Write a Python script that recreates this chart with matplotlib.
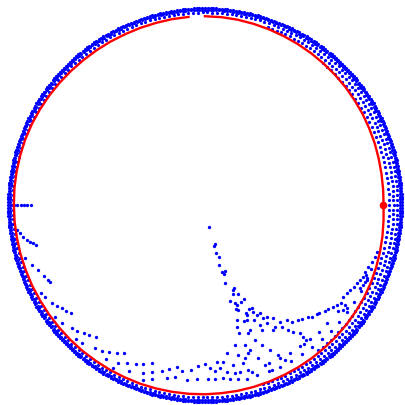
"""Orbit plot in the unit disk: blue orbit points, red boundary curve."""
import matplotlib
matplotlib.use("Agg")
import matplotlib.pyplot as plt
import numpy as np

# ring bands of orbit points near the boundary (radius, start deg, end deg, count)
ring_radius = [0.994, 0.986, 0.972, 0.952, 0.93]
ring_start = [0, 0, 0, -72, -52]
ring_end = [360, 360, 360, 72, 52]
ring_count = [440, 440, 250, 100, 62]

# scattered orbit points inside the disk
inner_x = [0.020, 0.049, 0.048, 0.057, 0.072, 0.069, 0.086, 0.101, 0.094, 0.103,
           0.148, 0.143, 0.141, 0.167, 0.195, 0.128, 0.152, 0.163, 0.180, 0.222,
           0.239, 0.155, 0.207, 0.244, 0.261, 0.278, 0.160, 0.197, 0.214, 0.247,
           0.295, 0.311, 0.345, 0.379, 0.412, 0.438, 0.471, 0.488, 0.522, 0.539,
           0.564, 0.577, 0.606, 0.623, 0.645, 0.665, 0.685, 0.707, 0.716, 0.699,
           0.673, 0.699, 0.716, 0.732, 0.753, 0.766, 0.783, 0.800, 0.813, 0.820,
           0.808, 0.796, 0.783, 0.867, 0.859, 0.842, 0.825, 0.808,
           0.168, 0.214, 0.160, 0.173, 0.219, 0.152, 0.202, 0.110, 0.168, 0.219,
           0.059, 0.093, 0.143, 0.193, -0.409, -0.395, -0.348, -0.312, -0.269, -0.382,
           -0.312, -0.266, -0.219, -0.180, -0.143, -0.118, -0.071, -0.034, 0.000, 0.025,
           0.051, 0.076, 0.110, 0.152, 0.177, 0.219, -0.312, -0.269, -0.193, -0.152,
           -0.093, -0.042, 0.017, 0.051, 0.089, 0.126, 0.168, 0.211,
           -0.783, -0.830, -0.808, -0.774, -0.749, -0.724, -0.702, -0.678, -0.758, -0.724,
           -0.673, -0.645, -0.611, -0.584, -0.551, -0.652, -0.623, -0.556, -0.522, -0.483,
           -0.446, -0.500, -0.438, -0.463,
           -0.965, -0.948, -0.931, -0.914, -0.897, -0.880,
           -0.951, -0.934, -0.918, -0.901, -0.884, -0.867, -0.854,
           -0.909, -0.874, -0.843, -0.813, -0.793,
           # lower-right tracks inside the red curve
           0.263, 0.323, 0.380, 0.436, 0.490, 0.542, 0.590, 0.636, 0.679, 0.719,
           0.755, 0.787, 0.816, 0.840,
           0.322, 0.377, 0.430, 0.481, 0.530, 0.575, 0.618,
           0.278, 0.313, 0.354, 0.387, 0.421, 0.446, 0.480, 0.496, 0.510, 0.500,
           0.253, 0.288, 0.328, 0.369, 0.404, 0.268, 0.303, 0.338, 0.237, 0.227,
           0.202, 0.227, 0.286, 0.345]
inner_y = [-0.110, -0.198, -0.206, -0.244, -0.264, -0.303, -0.337, -0.332, -0.348, -0.395,
           -0.421, -0.429, -0.448, -0.449, -0.476, -0.485, -0.496, -0.504, -0.491, -0.527,
           -0.519, -0.527, -0.544, -0.539, -0.556, -0.544, -0.581, -0.584, -0.581, -0.581,
           -0.572, -0.564, -0.572, -0.589, -0.581, -0.589, -0.581, -0.576, -0.567, -0.564,
           -0.551, -0.547, -0.534, -0.527, -0.514, -0.505, -0.493, -0.505, -0.522, -0.530,
           -0.535, -0.463, -0.446, -0.429, -0.413, -0.396, -0.379, -0.362, -0.354, -0.370,
           -0.387, -0.404, -0.421, -0.236, -0.261, -0.286, -0.312, -0.337,
           -0.530, -0.556, -0.615, -0.648, -0.648, -0.707, -0.707, -0.749, -0.758, -0.749,
           -0.791, -0.791, -0.808, -0.800, -0.749, -0.800, -0.805, -0.805, -0.800, -0.838,
           -0.847, -0.842, -0.838, -0.830, -0.817, -0.838, -0.833, -0.813, -0.803, -0.822,
           -0.837, -0.825, -0.842, -0.850, -0.842, -0.833, -0.884, -0.879, -0.875, -0.867,
           -0.884, -0.879, -0.880, -0.877, -0.872, -0.880, -0.880, -0.877,
           -0.387, -0.446, -0.466, -0.493, -0.510, -0.522, -0.535, -0.547, -0.567, -0.594,
           -0.620, -0.635, -0.648, -0.657, -0.668, -0.678, -0.695, -0.721, -0.736, -0.741,
           -0.749, -0.779, -0.796, -0.825,
           0.0, 0.0, 0.0, 0.0, 0.0, 0.0,
           -0.126, -0.143, -0.160, -0.177, -0.185, -0.194, -0.202,
           -0.268, -0.303, -0.328, -0.359, -0.379,
           -0.861, -0.840, -0.816, -0.787, -0.755, -0.719, -0.679, -0.636, -0.590, -0.542,
           -0.490, -0.436, -0.380, -0.323,
           -0.797, -0.773, -0.745, -0.713, -0.678, -0.639, -0.598,
           -0.604, -0.597, -0.614, -0.614, -0.631, -0.639, -0.648, -0.665, -0.682, -0.702,
           -0.682, -0.707, -0.732, -0.758, -0.783, -0.773, -0.808, -0.833, -0.843, -0.732,
           -0.773, -0.631, -0.631, -0.631]

# red boundary curve: radius every 5 degrees from 95 to 450 (gap at the top)
curve_deg = np.arange(95, 451, 5)
curve_r = [0.953, 0.953, 0.952, 0.952, 0.952, 0.953, 0.954, 0.955, 0.957, 0.959,
           0.961, 0.963, 0.965, 0.966, 0.966, 0.966, 0.966, 0.965, 0.965, 0.964,
           0.964, 0.963, 0.963, 0.962, 0.962, 0.962, 0.962, 0.962, 0.961, 0.961,
           0.960, 0.960, 0.959, 0.958, 0.957, 0.956, 0.954, 0.953, 0.951, 0.949,
           0.947, 0.945, 0.943, 0.940, 0.938, 0.935, 0.932, 0.929, 0.925, 0.920,
           0.915, 0.910, 0.905, 0.902, 0.903, 0.905, 0.908, 0.912, 0.915, 0.919,
           0.922, 0.926, 0.929, 0.932, 0.935, 0.938, 0.941, 0.944, 0.947, 0.950,
           0.952, 0.953]

start_point = (0.901, 0.0)

fig = plt.figure(figsize=(4.05, 4.05), dpi=100)
ax = fig.add_axes([0, 0, 1, 1])

for r, a0, a1, n in zip(ring_radius, ring_start, ring_end, ring_count):
    t = np.deg2rad(np.linspace(a0, a1, n, endpoint=False))
    ax.plot(r * np.cos(t), r * np.sin(t), "o", color="#0000ff", ms=2.3, mew=0)

ax.plot(inner_x, inner_y, "o", color="#0000ff", ms=2.4, mew=0)

th = np.deg2rad(curve_deg)
cr = np.array(curve_r)
ax.plot(cr * np.cos(th), cr * np.sin(th), color="#ff0000", lw=1.7,
        solid_joinstyle="round")
ax.plot(*start_point, "o", color="#ff0000", ms=5.5, mew=0)

ax.set_xlim(-1.035, 1.010)
ax.set_ylim(-1.010, 1.035)
ax.set_aspect("equal")
ax.axis("off")

fig.savefig("out.png", dpi=100)
